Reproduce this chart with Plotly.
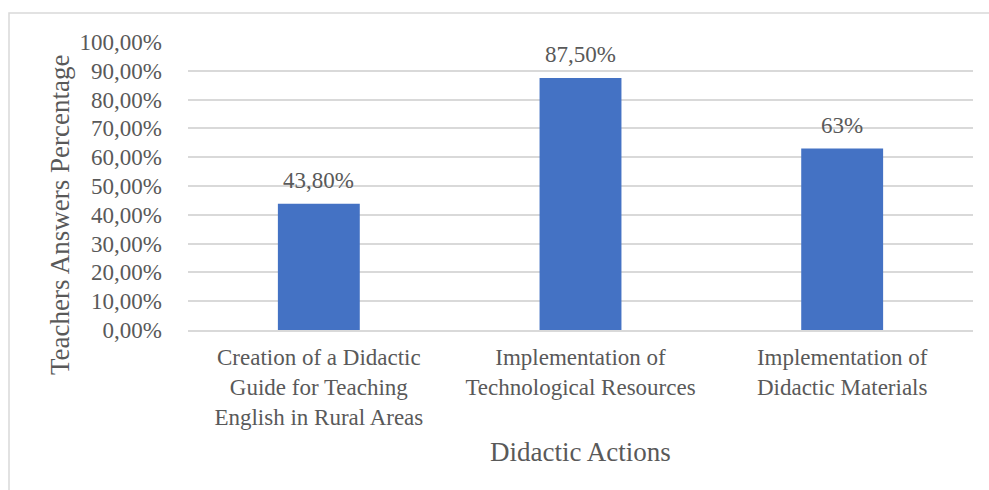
import plotly.graph_objects as go

# Survey results: share of teachers choosing each didactic action
categories = [
    "Creation of a Didactic<br>Guide for Teaching<br>English in Rural Areas",
    "Implementation of<br>Technological Resources",
    "Implementation of<br>Didactic Materials",
]
values = [43.8, 87.5, 63]
value_labels = ["43,80%", "87,50%", "63%"]
tick_values = [0, 10, 20, 30, 40, 50, 60, 70, 80, 90, 100]
tick_labels = ["0,00%", "10,00%", "20,00%", "30,00%", "40,00%", "50,00%",
               "60,00%", "70,00%", "80,00%", "90,00%", "100,00%"]
x_title = "Didactic Actions"
y_title = "Teachers Answers Percentage"

FONT = "Liberation Serif, Times New Roman, serif"
TEXT = "#595959"
GRID = "#D9D9D9"
BAR = "#4472C4"

W, H = 989, 490
L, R, T, B = 188, 16, 42, 160
pw, ph = W - L - R, H - T - B

fig = go.Figure()
fig.add_trace(go.Bar(
    x=categories, y=values, width=0.313,
    marker=dict(color=BAR, line=dict(width=0)),
    hoverinfo="skip",
))

# value labels above each bar
for c, v, t in zip(categories, values, value_labels):
    fig.add_annotation(x=c, y=v, text=t, showarrow=False, yanchor="bottom",
                       yshift=9, font=dict(family=FONT, size=23, color=TEXT))

# axis titles
fig.add_annotation(xref="paper", yref="paper", x=0.5, y=-(452 - (T + ph)) / ph,
                   text=x_title, showarrow=False, xanchor="center", yanchor="middle",
                   font=dict(family=FONT, size=27, color=TEXT))
fig.add_annotation(xref="paper", yref="paper", x=(60 - L) / pw, y=(T + ph - 215) / ph,
                   text=y_title, textangle=-90, showarrow=False,
                   xanchor="center", yanchor="middle",
                   font=dict(family=FONT, size=27, color=TEXT))

# chart-area frame
fig.add_shape(type="rect", xref="paper", yref="paper",
              x0=(9 - L) / pw, x1=(W + 5 - L) / pw,
              y0=-(B + 10) / ph, y1=1 + (T - 13) / ph,
              line=dict(color=GRID, width=1.5), fillcolor="rgba(0,0,0,0)", layer="below")

fig.update_layout(
    width=W, height=H,
    margin=dict(l=L, r=R, t=T, b=B, autoexpand=False),
    paper_bgcolor="white", plot_bgcolor="white",
    font=dict(family=FONT, size=23, color=TEXT),
    showlegend=False,
    xaxis=dict(
        showgrid=False, showline=True, linecolor=GRID, linewidth=1.5,
        ticks="", ticklabelstandoff=6,
        tickfont=dict(family=FONT, size=23, color=TEXT),
        automargin=False,
    ),
    yaxis=dict(
        range=[0, 100], tickvals=tick_values, ticktext=tick_labels,
        showgrid=True, gridcolor=GRID, gridwidth=1.5, zeroline=False,
        showline=False, ticks="", ticklabelstandoff=25,
        tickfont=dict(family=FONT, size=23, color=TEXT),
        automargin=False,
    ),
)

fig.write_html("out.html")
